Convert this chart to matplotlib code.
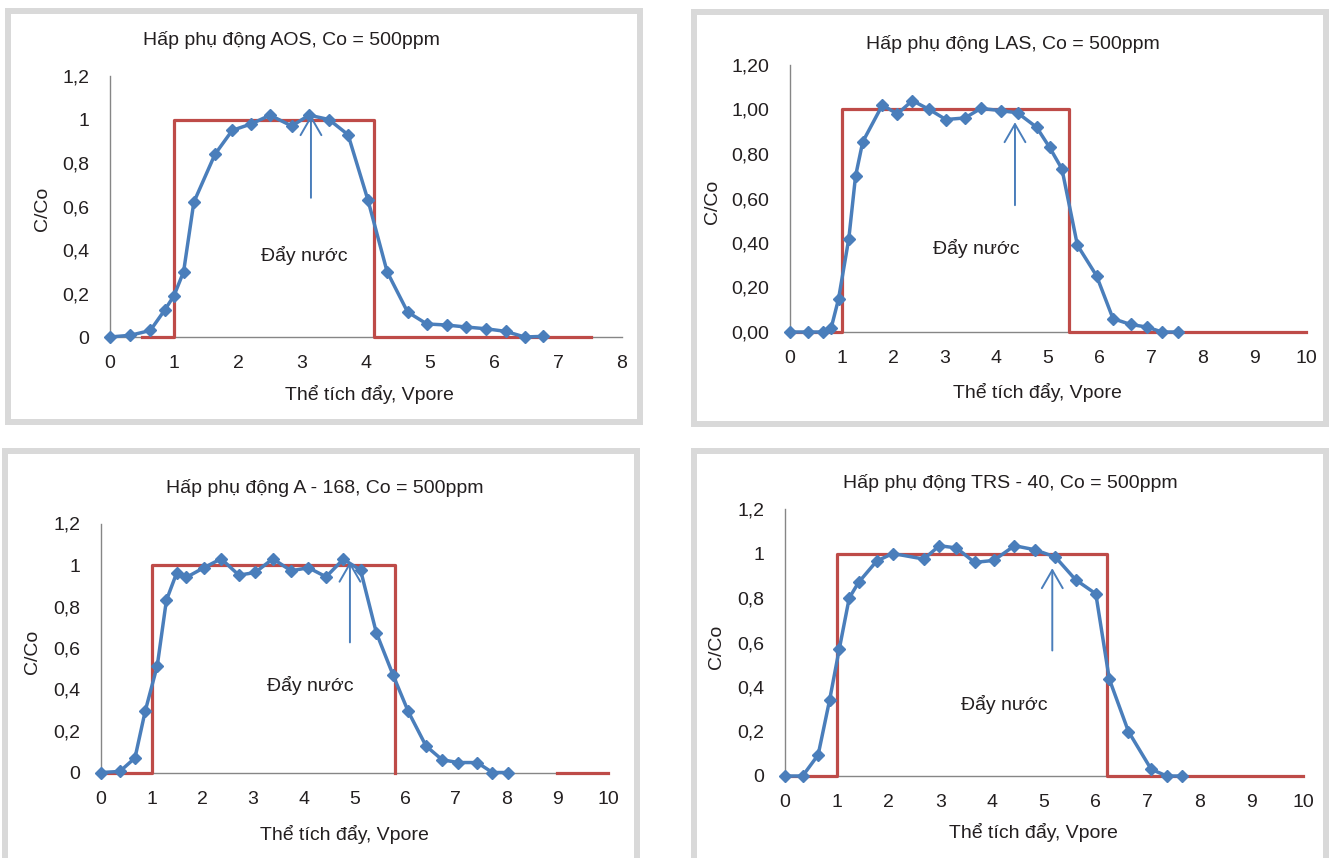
import matplotlib
matplotlib.use("Agg")
import matplotlib.pyplot as plt
from matplotlib import font_manager
from matplotlib.patches import Rectangle
import numpy as np

# font: narrow sans if we have it
names = {f.name for f in font_manager.fontManager.ttflist}
if "Liberation Sans Narrow" in names:
    FONT = "Liberation Sans Narrow"
else:
    FONT = "Liberation Sans"
plt.rcParams["font.family"] = [FONT, "DejaVu Sans"]

W, H = 1330, 858
BLUE = "#4a7ebb"
RED = "#be4b48"
GRID_GRAY = "#868686"
FRAME = "#d9d9d9"
TXT = "#231f20"

# --- data ---
aos_x = [0, 0.32, 0.63, 0.86, 1.0, 1.15, 1.31, 1.64, 1.91, 2.21, 2.50, 2.84, 3.11,
         3.42, 3.72, 4.03, 4.33, 4.65, 4.95, 5.26, 5.56, 5.87, 6.18, 6.48, 6.77]
aos_y = [0, 0.008, 0.03, 0.126, 0.19, 0.30, 0.62, 0.84, 0.95, 0.98, 1.02, 0.97, 1.02,
         1.0, 0.93, 0.63, 0.30, 0.115, 0.06, 0.055, 0.046, 0.038, 0.026, 0.0, 0.003]
aos_step_x = [0.5, 1.0, 1.0, 4.12, 4.12, 7.52]
aos_step_y = [0, 0, 1, 1, 0, 0]

las_x = [0, 0.35, 0.64, 0.80, 0.94, 1.14, 1.27, 1.41, 1.79, 2.08, 2.37, 2.70, 3.02, 3.39,
         3.70, 4.08, 4.41, 4.78, 5.03, 5.27, 5.57, 5.94, 6.26, 6.60, 6.92, 7.21, 7.51]
las_y = [0, 0, 0, 0.02, 0.148, 0.42, 0.70, 0.855, 1.02, 0.98, 1.04, 1.0, 0.955, 0.962,
         1.005, 0.995, 0.985, 0.92, 0.83, 0.733, 0.39, 0.253, 0.06, 0.034, 0.022, 0.0, 0.0]
las_step_x = [0, 1.01, 1.01, 5.41, 5.41, 10]
las_step_y = [0, 0, 1, 1, 0, 0]

a168_x = [0, 0.37, 0.67, 0.87, 1.11, 1.29, 1.49, 1.68, 2.03, 2.37, 2.72, 3.04, 3.39, 3.75,
          4.09, 4.44, 4.78, 5.12, 5.43, 5.76, 6.06, 6.41, 6.73, 7.05, 7.42, 7.72, 8.02]
a168_y = [0, 0.005, 0.07, 0.294, 0.515, 0.83, 0.96, 0.94, 0.987, 1.03, 0.951, 0.964, 1.03,
          0.972, 0.987, 0.943, 1.028, 0.975, 0.674, 0.47, 0.294, 0.128, 0.061, 0.048,
          0.048, 0.0, 0.0]
a168_step_x = [0, 1.01, 1.01, 5.79, 5.79, np.nan, 9.0, 10.0]
a168_step_y = [0, 0, 1, 1, 0, np.nan, 0, 0]

trs_x = [0, 0.34, 0.64, 0.86, 1.05, 1.24, 1.42, 1.77, 2.08, 2.68, 2.98, 3.31, 3.66, 4.03,
         4.43, 4.82, 5.22, 5.61, 6.0, 6.26, 6.63, 7.07, 7.37, 7.66]
trs_y = [0, 0, 0.095, 0.34, 0.573, 0.80, 0.87, 0.966, 1.0, 0.975, 1.035, 1.025, 0.96,
         0.969, 1.035, 1.017, 0.984, 0.882, 0.819, 0.436, 0.2, 0.03, 0.0, 0.0]
trs_step_x = [0, 1.01, 1.01, 6.22, 6.22, 10]
trs_step_y = [0, 0, 1, 1, 0, 0]

yticks = [0, 0.2, 0.4, 0.6, 0.8, 1.0, 1.2]
ylabels_short = ["0", "0,2", "0,4", "0,6", "0,8", "1", "1,2"]
ylabels_long = ["0,00", "0,20", "0,40", "0,60", "0,80", "1,00", "1,20"]

titles = ["Hấp phụ động AOS, Co = 500ppm", "Hấp phụ động LAS, Co = 500ppm",
          "Hấp phụ động A - 168, Co = 500ppm", "Hấp phụ động TRS - 40, Co = 500ppm"]
xlabel = "Thể tích đẩy, Vpore"
ylabel = "C/Co"
note = "Đẩy nước"

# arrow: x, tail y, head y ; note position
arrows = [(3.14, 0.64, 1.02), (4.36, 0.57, 0.943), (4.91, 0.627, 1.016), (5.16, 0.564, 0.934)]
notes = [(3.03, 0.375), (3.6, 0.374), (4.13, 0.42), (4.23, 0.32)]

panels = [
    dict(x=aos_x, y=aos_y, sx=aos_step_x, sy=aos_step_y, xmax=8, ylab=ylabels_short,
         ax=(110, 622, 76, 337), frame=(5, 643, 8, 425),
         title=(291, 40), xl=(369, 395), yl=(43, 209)),
    dict(x=las_x, y=las_y, sx=las_step_x, sy=las_step_y, xmax=10, ylab=ylabels_long,
         ax=(790, 1306, 65, 332), frame=(691, 1329, 9, 427),
         title=(1013, 44), xl=(1037, 393), yl=(713, 202)),
    dict(x=a168_x, y=a168_y, sx=a168_step_x, sy=a168_step_y, xmax=10, ylab=ylabels_short,
         ax=(101, 608, 523.5, 772.5), frame=(2, 640, 448, 880),
         title=(325, 488), xl=(344, 835), yl=(33, 652)),
    dict(x=trs_x, y=trs_y, sx=trs_step_x, sy=trs_step_y, xmax=10, ylab=ylabels_short,
         ax=(785, 1303, 509, 776), frame=(691, 1329, 448, 880),
         title=(1010, 483), xl=(1033, 833), yl=(717, 647)),
]

FS = 14

fig = plt.figure(figsize=(W / 100, H / 100), dpi=100)
fig.patch.set_facecolor("white")

for i, p in enumerate(panels):
    # grey frame around each chart
    fl, fr, ft, fb = p["frame"]
    bw = 6
    fig.patches.append(Rectangle(((fl + bw / 2) / W, 1 - (fb - bw / 2) / H),
                                 (fr - fl - bw) / W, (fb - ft - bw) / H,
                                 transform=fig.transFigure, fill=False,
                                 edgecolor=FRAME, lw=bw * 0.72, zorder=0))

    l, r, t, b = p["ax"]
    ax = fig.add_axes([l / W, 1 - b / H, (r - l) / W, (b - t) / H])
    ax.set_facecolor("none")
    ax.set_xlim(0, p["xmax"])
    ax.set_ylim(0, 1.2)
    ax.set_xticks(range(p["xmax"] + 1))
    ax.set_yticks(yticks)
    ax.set_yticklabels(p["ylab"])
    ax.tick_params(length=0, pad=15, labelsize=FS, colors=TXT)
    ax.tick_params(axis="x", pad=13)
    for s in ["top", "right"]:
        ax.spines[s].set_visible(False)
    for s in ["left", "bottom"]:
        ax.spines[s].set_color(GRID_GRAY)
        ax.spines[s].set_linewidth(1.0)

    ax.plot(p["sx"], p["sy"], color=RED, lw=2.3, zorder=3, clip_on=False)
    ax.plot(p["x"], p["y"], color=BLUE, lw=2.5, marker="D", ms=6.5,
            mfc=BLUE, mec=BLUE, zorder=4, clip_on=False)

    axx, y0, y1 = arrows[i]
    ax.annotate("", xy=(axx, y1), xytext=(axx, y0),
                arrowprops=dict(arrowstyle="->,head_length=1.3,head_width=0.75",
                                mutation_scale=10, color=BLUE, lw=1.4,
                                shrinkA=0, shrinkB=0), zorder=5)
    ax.text(notes[i][0], notes[i][1], note, fontsize=FS, color=TXT,
            ha="center", va="center")

    fig.text(p["title"][0] / W, 1 - p["title"][1] / H, titles[i], fontsize=FS,
             color=TXT, ha="center", va="center")
    fig.text(p["xl"][0] / W, 1 - p["xl"][1] / H, xlabel, fontsize=FS,
             color=TXT, ha="center", va="center")
    fig.text(p["yl"][0] / W, 1 - p["yl"][1] / H, ylabel, fontsize=FS,
             color=TXT, ha="center", va="center", rotation=90)

fig.savefig("out.png", dpi=100, facecolor="white")
